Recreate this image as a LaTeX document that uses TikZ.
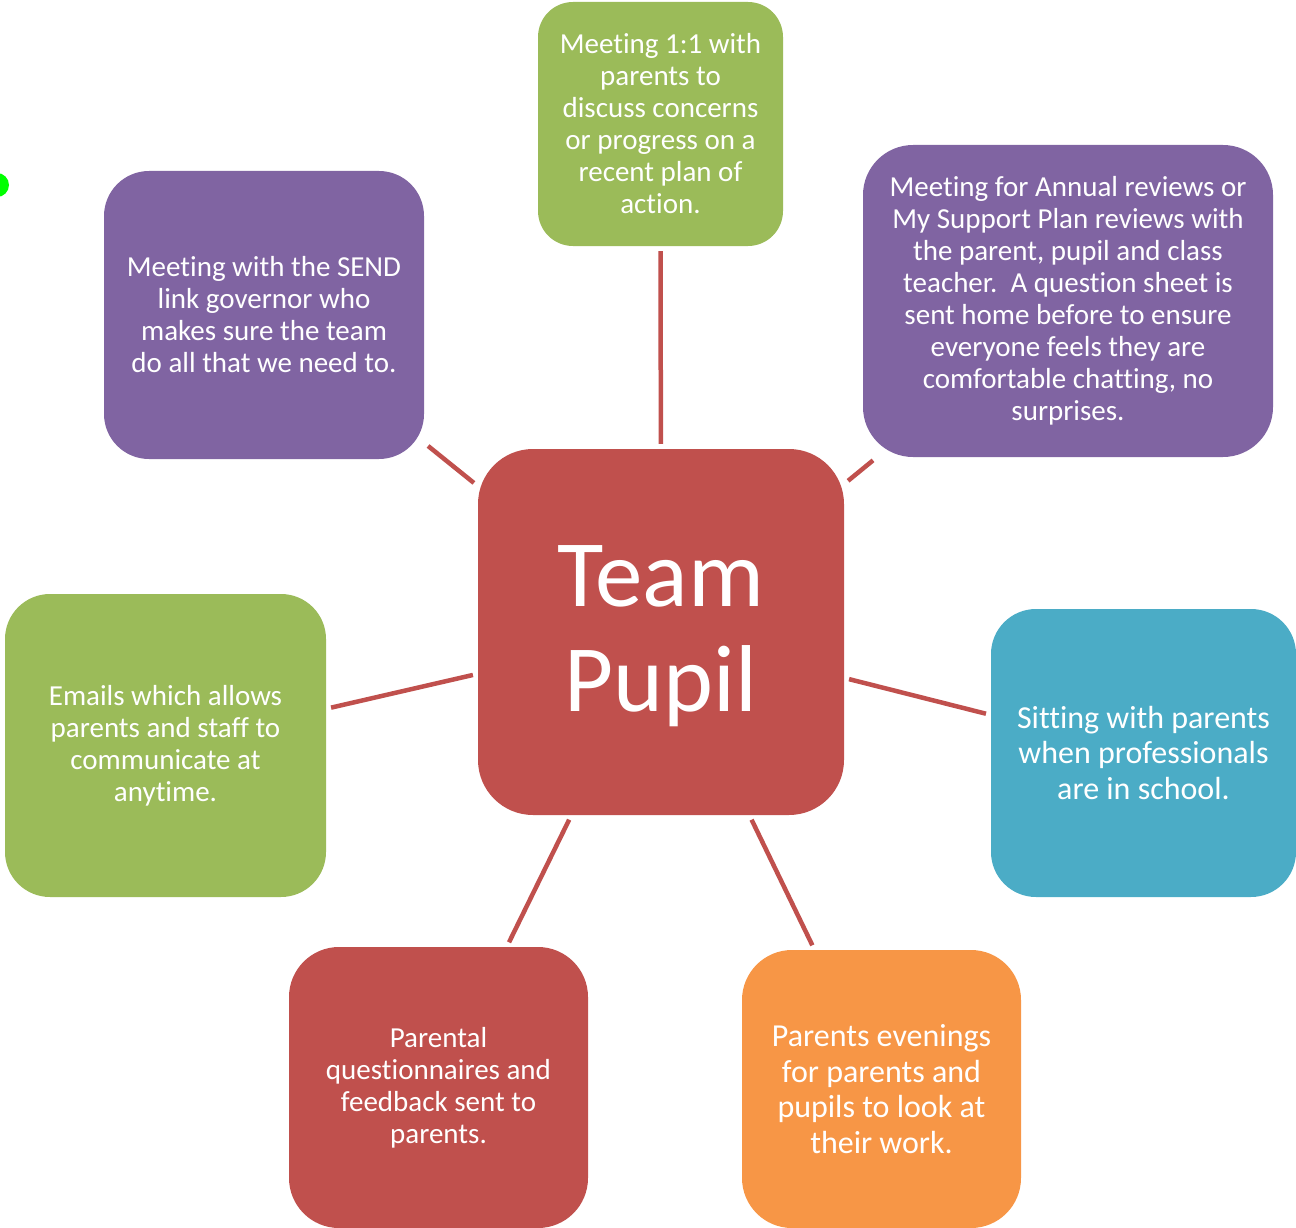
\documentclass[tikz,border=0pt]{standalone}
\usepackage{fontspec}
\setmainfont{Carlito}[Ligatures=NoCommon]

\definecolor{boxgreen}{HTML}{9BBB59}
\definecolor{boxpurple}{HTML}{8064A2}
\definecolor{boxred}{HTML}{C0504D}
\definecolor{boxteal}{HTML}{4BACC6}
\definecolor{boxorange}{HTML}{F79646}
\definecolor{dotgreen}{HTML}{00FF00}

\tikzset{
  card/.style={rounded corners=45pt, inner sep=0pt, text=white, align=center,
    font=\fontsize{29}{32}\selectfont},
  bigcard/.style={card, font=\fontsize{32}{35.5}\selectfont},
  link/.style={draw=boxred, line width=4.5pt, shorten <=5pt, shorten >=5pt}
}

\begin{document}
\begin{tikzpicture}[x=1pt,y=-1pt]
\useasboundingbox (0,0) rectangle (1296,1228);
\clip (0,0) rectangle (1296,1228);

\fill[dotgreen] (-3,185) circle (12pt);

% centre
\node[card, fill=boxred, minimum width=366pt, minimum height=366pt, rounded corners=55pt,
  font=\fontsize{95}{105}\selectfont] (team) at (661,632) {};
\node[text=white, align=center, font=\fontsize{95}{105}\selectfont] (teamtext) at (661,636) {Team\\Pupil};

% boxes round it
\node[card, fill=boxgreen, minimum width=245pt, minimum height=244pt, rounded corners=35pt]
  (meeting) at (660.5,124) {Meeting 1:1 with\\parents to\\discuss concerns\\or progress on a\\recent plan of\\action.};
\node[card, fill=boxpurple, minimum width=410pt, minimum height=312pt, rounded corners=50pt]
  (review) at (1068,301) {Meeting for Annual reviews or\\My Support Plan reviews with\\the parent, pupil and class\\teacher.\ \ A question sheet is\\sent home before to ensure\\everyone feels they are\\comfortable chatting, no\\surprises.};
\node[card, fill=boxpurple, minimum width=320pt, minimum height=288pt]
  (governor) at (264,315) {Meeting with the SEND\\link governor who\\makes sure the team\\do all that we need to.};
\node[card, fill=boxgreen, minimum width=321pt, minimum height=303pt]
  (emails) at (165.5,745.5) {Emails which allows\\parents and staff to\\communicate at\\anytime.};
\node[bigcard, fill=boxteal, minimum width=305pt, minimum height=288pt]
  (sitting) at (1143.5,753) {Sitting with parents\\when professionals\\are in school.};
\node[card, fill=boxred, minimum width=299pt, minimum height=281pt, rounded corners=50pt]
  (questions) at (438.5,1087.5) {Parental\\questionnaires and\\feedback sent to\\parents.};
\node[bigcard, fill=boxorange, minimum width=279pt, minimum height=278pt, rounded corners=50pt]
  (evenings) at (881.5,1089) {Parents evenings\\for parents and\\pupils to look at\\their work.};

\foreach \b in {meeting,review,governor,emails,sitting,questions,evenings}
\draw[link] (team) -- (\b);
\end{tikzpicture}
\end{document}
